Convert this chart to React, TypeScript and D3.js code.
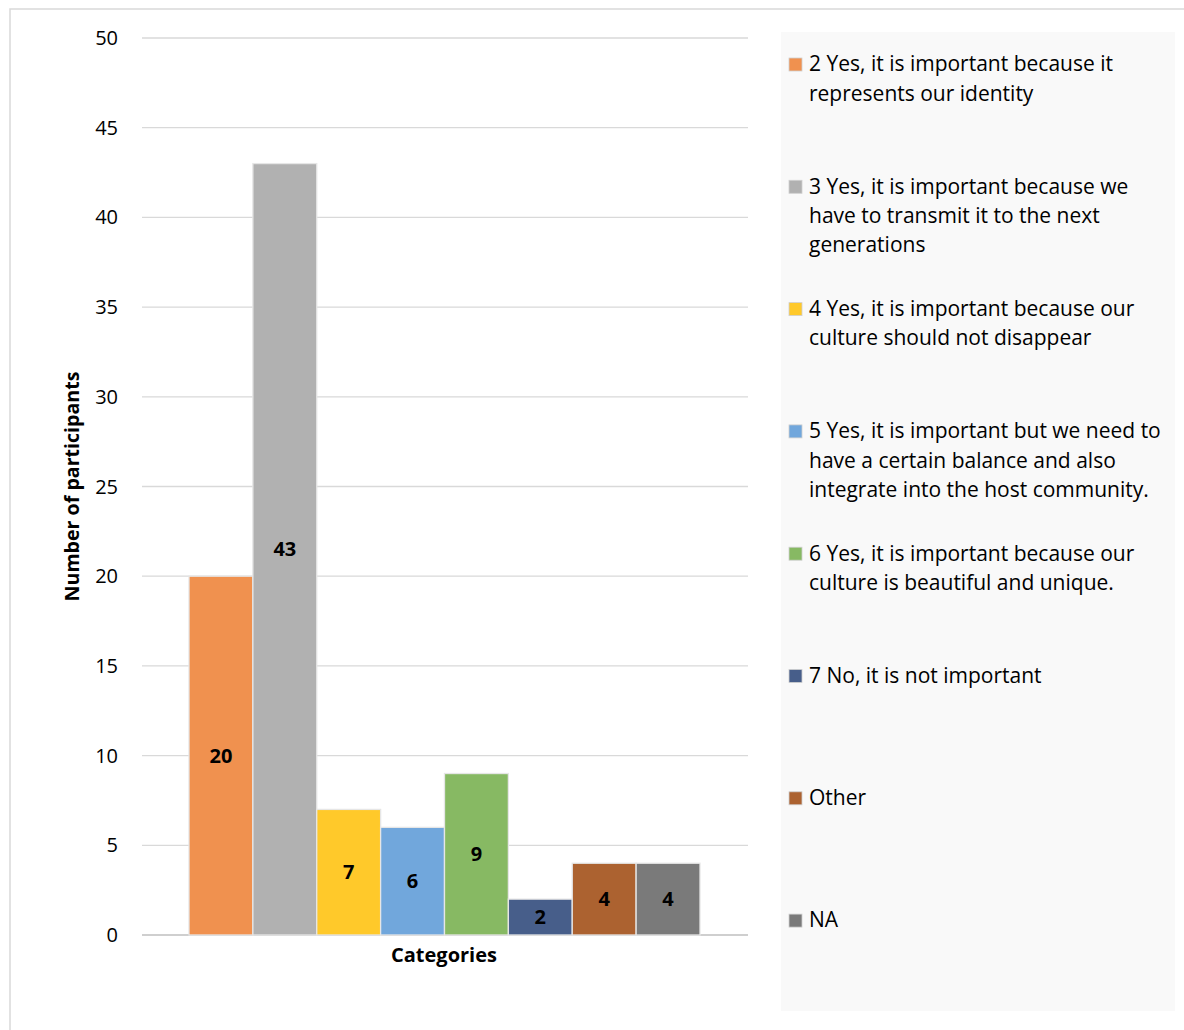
import React from "react";
import * as d3 from "d3";

const categories = [
  "2 Yes, it is important because it represents our identity",
  "3 Yes, it is important because we have to transmit it to the next generations",
  "4 Yes, it is important because our culture should not disappear",
  "5 Yes, it is important but we need to have a certain balance and also integrate into the host community.",
  "6 Yes, it is important because our culture is beautiful and unique.",
  "7 No, it is not important",
  "Other",
  "NA",
];
const legendLines = [
  ["2 Yes, it is important because it", "represents our identity"],
  ["3 Yes, it is important because we", "have to transmit it to the next", "generations"],
  ["4 Yes, it is important because our", "culture should not disappear"],
  ["5 Yes, it is important but we need to", "have a certain balance and also", "integrate into the host community."],
  ["6 Yes, it is important because our", "culture is beautiful and unique."],
  ["7 No, it is not important"],
  ["Other"],
  ["NA"],
];
const values = [20, 43, 7, 6, 9, 2, 4, 4];
const colors = ["#F0914F", "#B1B1B1", "#FFC92A", "#71A7DC", "#87B963", "#475E8A", "#AC6230", "#7A7A7A"];
const yTicks = [0, 5, 10, 15, 20, 25, 30, 35, 40, 45, 50];

const FONT = "'Open Sans', 'Noto Sans', sans-serif";

export default function App() {
  const W = 1184, H = 1030;
  const plotL = 142, plotR = 748, plotT = 38, plotB = 935;
  const y = d3.scaleLinear().domain([0, 50]).range([plotB, plotT]);
  const x = d3.scaleBand<number>().domain(d3.range(values.length)).range([189, 700]).padding(0);
  const legendX = 789;
  const legendTop = 64;
  const legendStep = 122.3;
  const lineH = 29.3;

  return (
    <svg width={W} height={H} style={{ position: "absolute", left: 0, top: 0 }} fontFamily={FONT}>
      <rect x={0} y={0} width={W} height={H} fill="#ffffff" />
      <rect x={10} y={9} width={1200} height={1040} fill="#ffffff" stroke="#d9d9d9" strokeWidth={1.5} />
      <rect x={781} y={32} width={394} height={979} fill="#f9f9f9" />
      {yTicks.map((t) => (
        <g key={t}>
          <line x1={plotL} x2={plotR} y1={y(t)} y2={y(t)} stroke={t === 0 ? "#bfbfbf" : "#d9d9d9"} strokeWidth={1.3} />
          <text x={118} y={y(t)} dy="0.35em" textAnchor="end" fontSize={20} fill="#000">{t}</text>
        </g>
      ))}
      {values.map((v, i) => (
        <g key={i}>
          <rect x={x(i)!} y={y(v)} width={x.bandwidth()} height={y(0) - y(v)} fill={colors[i]} stroke="#e6e6e6" strokeWidth={1.3} />
          <text x={x(i)! + x.bandwidth() / 2} y={(y(v) + y(0)) / 2} dy="0.35em" textAnchor="middle" fontSize={20} fontWeight="bold" fill="#000">{v}</text>
        </g>
      ))}
      <text x={444} y={955} dy="0.35em" textAnchor="middle" fontSize={20} fontWeight="bold">Categories</text>
      <text transform={`translate(72,${(plotT + plotB) / 2}) rotate(-90)`} dy="0.35em" textAnchor="middle" fontSize={19.6} fontWeight="bold">Number of participants</text>
      {categories.map((c, i) => {
        const cy = legendTop + i * legendStep;
        return (
          <g key={c}>
            <rect x={legendX} y={cy - 6} width={13} height={13} fill={colors[i]} stroke="#d0d0d0" strokeWidth={0.8} />
            {legendLines[i].map((ln, j) => (
              <text key={j} x={809} y={cy + j * lineH} dy="0.35em" fontSize={21} fill="#000">{ln}</text>
            ))}
          </g>
        );
      })}
    </svg>
  );
}
